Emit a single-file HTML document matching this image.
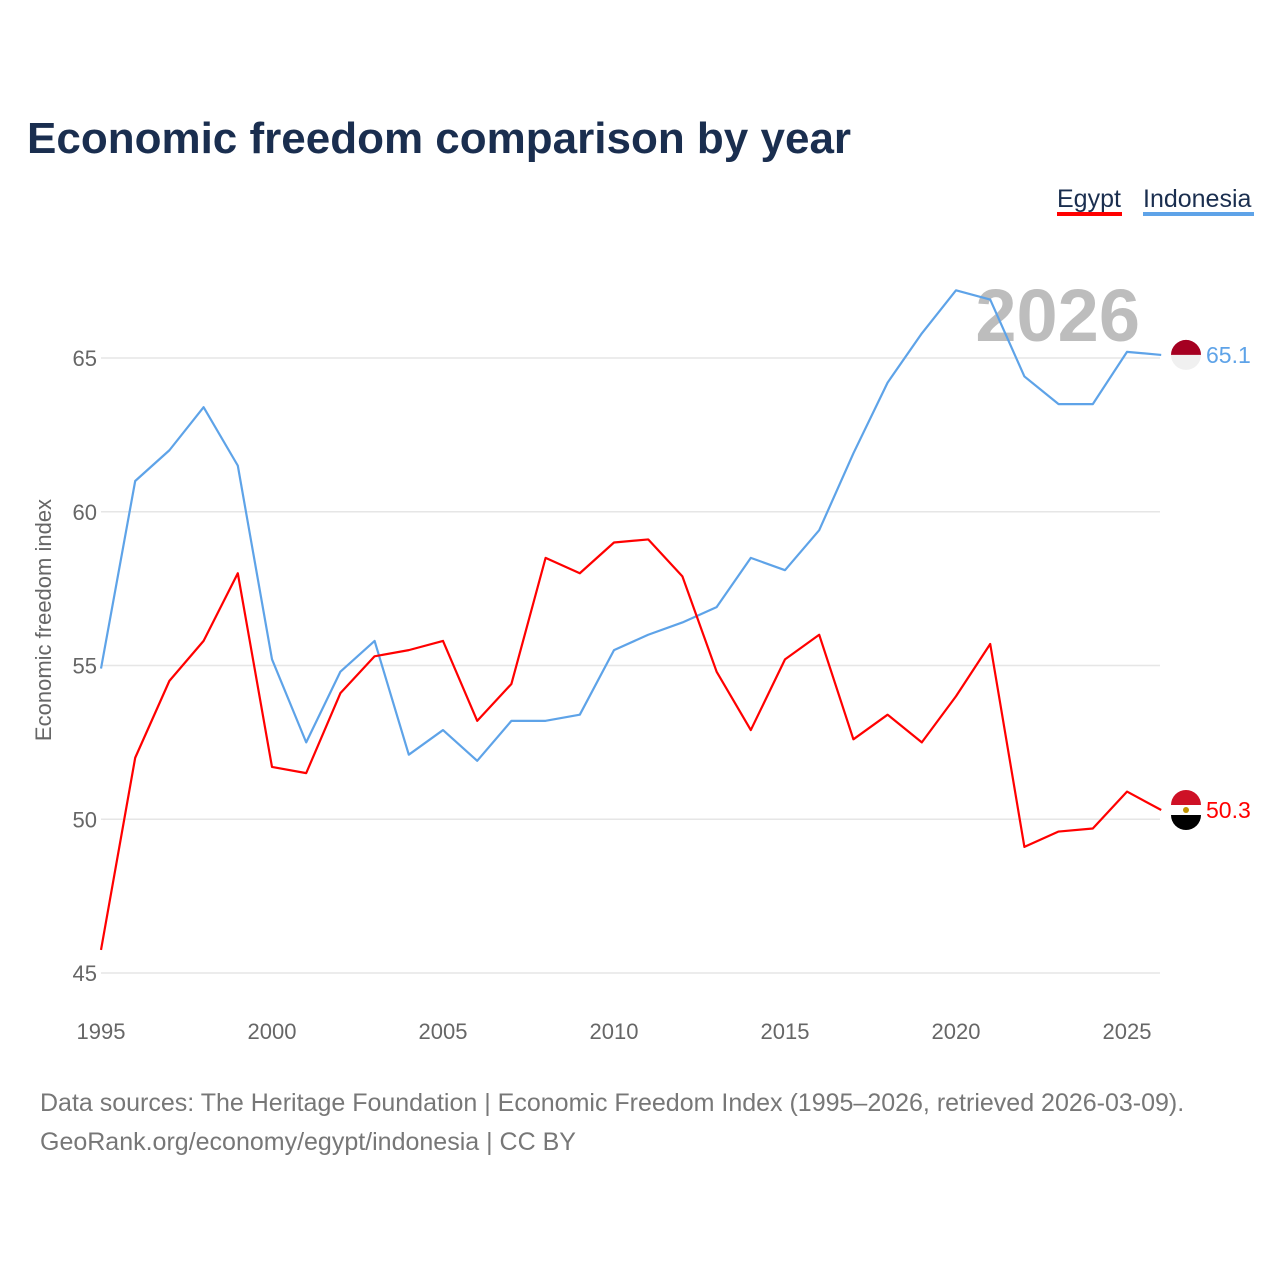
<!DOCTYPE html>
<html><head><meta charset="utf-8">
<style>
body{margin:0;background:#fff;font-family:"Liberation Sans",sans-serif;}
svg{display:block}
</style></head>
<body>
<svg width="1280" height="1280" viewBox="0 0 1280 1280">
<text x="27" y="153" font-size="44" font-weight="bold" fill="#1a2e4f">Economic freedom comparison by year</text>
<g>
<text x="1057" y="207" font-size="25" fill="#1a2e4f">Egypt</text>
<rect x="1057" y="212" width="65" height="4" fill="#ff0000"/>
<text x="1143" y="207" font-size="25" fill="#1a2e4f">Indonesia</text>
<rect x="1143" y="212" width="111" height="4" fill="#5ea3e8"/>
</g>
<text x="1140" y="341" font-size="74" font-weight="bold" fill="#bdbdbd" text-anchor="end">2026</text>
<g id="grid"></g>
<g id="xt"></g>
<text transform="translate(51,620) rotate(-90)" font-size="22" fill="#666" text-anchor="middle">Economic freedom index</text>
<g id="lines"></g>
<text x="40" y="1111" font-size="25" fill="#777">Data sources: The Heritage Foundation | Economic Freedom Index (1995–2026, retrieved 2026-03-09).</text>
<text x="40" y="1150" font-size="25" fill="#777">GeoRank.org/economy/egypt/indonesia | CC BY</text>
</svg>
<script>
const years=[1995,1996,1997,1998,1999,2000,2001,2002,2003,2004,2005,2006,2007,2008,2009,2010,2011,2012,2013,2014,2015,2016,2017,2018,2019,2020,2021,2022,2023,2024,2025,2026];
const egypt=[45.75,52.0,54.5,55.8,58.0,51.7,51.5,54.1,55.3,55.5,55.8,53.2,54.4,58.5,58.0,59.0,59.1,57.9,54.8,52.9,55.2,56.0,52.6,53.4,52.5,54.0,55.7,49.1,49.6,49.7,50.9,50.3];
const indonesia=[54.9,61.0,62.0,63.4,61.5,55.2,52.5,54.8,55.8,52.1,52.9,51.9,53.2,53.2,53.4,55.5,56.0,56.4,56.9,58.5,58.1,59.4,61.9,64.2,65.8,67.2,66.9,64.4,63.5,63.5,65.2,65.1];
const yTicks=[45,50,55,60,65];
const xTicks=[1995,2000,2005,2010,2015,2020,2025];
const NS="http://www.w3.org/2000/svg";
const X=y=>101+(y-1995)*34.2;
const Y=v=>358+(65-v)*30.75;
function mk(t,a,p){const e=document.createElementNS(NS,t);for(const k in a)e.setAttribute(k,a[k]);p.appendChild(e);return e;}
const grid=document.getElementById('grid');
yTicks.forEach(v=>{
 const l=mk('line',{x1:101,x2:1160,y1:Y(v),y2:Y(v),stroke:'#e6e6e6','stroke-width':1.5},grid);
 
 
 const t=mk('text',{x:97,y:Y(v)+8,'font-size':22,fill:'#666','text-anchor':'end'},grid);t.textContent=v;
 
 
});
const xt=document.getElementById('xt');
xTicks.forEach(v=>{
 const t=mk('text',{x:X(v),y:1039,'font-size':22,fill:'#666','text-anchor':'middle'},xt);t.textContent=v;
 
 
});
const lines=document.getElementById('lines');
function series(vals,col,name){
 const p=mk('polyline',{points:vals.map((v,i)=>X(years[i])+','+Y(v)).join(' '),fill:'none',stroke:col,'stroke-width':2.2,'stroke-linejoin':'round'},lines);
 
 
 const last=vals[vals.length-1],cy=Y(last);
 const c=mk('circle',{cx:1186,cy:cy,r:15,fill:name==='egypt'?'#fff':'#f0f0f0'},lines);
 
 
 if(name==='egypt'){
  const a=mk('path',{d:`M1171 ${cy-5} A15 15 0 0 1 1201 ${cy-5} Z`,fill:'#ce1126'},lines);
  const b=mk('path',{d:`M1171 ${cy+5} A15 15 0 0 0 1201 ${cy+5} Z`,fill:'#000'},lines);
  mk('circle',{cx:1186,cy:cy,r:3,fill:'#c09300'},lines);
 } else {
  mk('path',{d:`M1171 ${cy} A15 15 0 0 1 1201 ${cy} Z`,fill:'#a50021'},lines);
 }
 const t=mk('text',{x:1206,y:cy+8,'font-size':23,fill:col},lines);t.textContent=last.toFixed(1);
 
 
}
series(indonesia,'#5ea3e8','indonesia');
series(egypt,'#ff0000','egypt');
</script>
</body></html>
